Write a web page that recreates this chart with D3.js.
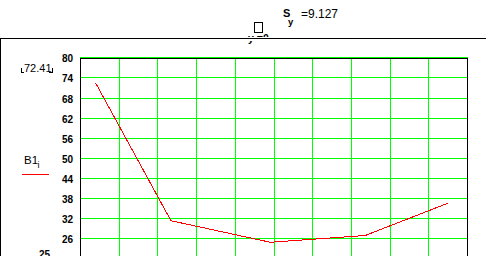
<!DOCTYPE html>
<html><head><meta charset="utf-8">
<script src="https://cdn.jsdelivr.net/npm/d3@7"></script>
<style>body{margin:0;background:#fff;overflow:hidden}svg{display:block}</style>
</head><body>
<script>
// Data
const xValues = [0.4, 2.35, 4.92, 7.37, 9.5];
const b1Values = [72.41, 31.25, 24.81, 26.84, 36.44];
const yTicks = [80, 74, 68, 62, 56, 50, 44, 38, 32, 26];
const yGrid = [80, 74, 68, 62, 56, 50, 44, 38, 32, 26, 20];
const xTicks = [0,1,2,3,4,5,6,7,8,9,10];
const yLowerLimit = "25";
const legendValue = "72.41";
const title = {sym: "S", sub: "y", rest: "=9.127"};

const W = 486, H = 256;
const svg = d3.select("body").append("svg").attr("width", W).attr("height", H)
  .style("font-family", "'Liberation Sans', Arial, sans-serif");

// Outer region frame
svg.append("line").attr("x1",0).attr("x2",W).attr("y1",38.5).attr("y2",38.5).attr("stroke","#000").attr("shape-rendering","crispEdges");
svg.append("line").attr("x1",0.5).attr("x2",0.5).attr("y1",38).attr("y2",H).attr("stroke","#000").attr("shape-rendering","crispEdges");

// Title
svg.append("rect").attr("x",254.5).attr("y",22.5).attr("width",8).attr("height",10).attr("fill","none").attr("stroke","#000").attr("shape-rendering","crispEdges");
svg.append("text").attr("x",283).attr("y",16.5).attr("font-size",11).attr("font-weight","bold").text(title.sym);
svg.append("text").attr("x",288).attr("y",25).attr("font-size",9.5).attr("font-weight","bold").text(title.sub);
svg.append("text").attr("x",301).attr("y",17.5).attr("font-size",12).text(title.rest);

// clipped "y =0"
const defs = svg.append("defs");
const cp = defs.append("clipPath").attr("id","ycl");
cp.append("rect").attr("x",240).attr("y",33.5).attr("width",50).attr("height",3.5);
cp.append("rect").attr("x",247).attr("y",41).attr("width",8).attr("height",5);
svg.append("text").attr("clip-path","url(#ycl)").attr("x",248).attr("y",42).attr("font-size",10.5).attr("font-weight","bold").text("y =0");

// Scales
const x = d3.scaleLinear().domain([0,10]).range([80,467]);
const y = d3.scaleLinear().domain([80,26]).range([57.3,238.3]);

// Grid
const g = svg.append("g").attr("shape-rendering","crispEdges");
g.selectAll(".hg").data(yGrid).join("line")
  .attr("x1",80).attr("x2",468).attr("y1",d=>Math.round(y(d))+0.5).attr("y2",d=>Math.round(y(d))+0.5)
  .attr("stroke","#00ff00");
g.selectAll(".vg").data(xTicks.slice(1,-1)).join("line")
  .attr("x1",d=>Math.round(x(d))+0.5).attr("x2",d=>Math.round(x(d))+0.5).attr("y1",58).attr("y2",H)
  .attr("stroke","#00ff00");

// Plot frame
g.append("line").attr("x1",80).attr("x2",468).attr("y1",58.5).attr("y2",58.5).attr("stroke","#000");
g.append("line").attr("x1",80.5).attr("x2",80.5).attr("y1",58).attr("y2",H).attr("stroke","#000");
g.append("line").attr("x1",467.5).attr("x2",467.5).attr("y1",58).attr("y2",H).attr("stroke","#000");

// Y axis labels
svg.selectAll(".yl").data(yTicks).join("text")
  .attr("x",73).attr("y",d=>Math.round(y(d))+4.8).attr("text-anchor","end")
  .attr("font-size",10).attr("font-weight","bold").text(d=>d);
svg.append("text").attr("x",50).attr("y",258).attr("text-anchor","end").attr("font-size",10).attr("font-weight","bold").text(yLowerLimit);

// Data line
const line = d3.line().x((d,i)=>x(xValues[i])).y(d=>y(d));
svg.append("path").datum(b1Values).attr("d",line).attr("fill","none").attr("stroke","#ff0000").attr("stroke-width",1).attr("shape-rendering","crispEdges");

// Legend
svg.append("text").attr("x",24).attr("y",72).attr("font-size",11).text(legendValue);
svg.append("path").attr("d","M21.5,68V72.5H24 M49,72.5H52.5V68").attr("fill","none").attr("stroke","#000").attr("shape-rendering","crispEdges");
svg.append("text").attr("x",24).attr("y",163.5).attr("font-size",11.5).text("B1");
svg.append("text").attr("x",37.5).attr("y",167.5).attr("font-size",9).text("i");
svg.append("line").attr("x1",22).attr("x2",49).attr("y1",174.5).attr("y2",174.5).attr("stroke","#ff0000").attr("shape-rendering","crispEdges");
</script>
</body></html>
